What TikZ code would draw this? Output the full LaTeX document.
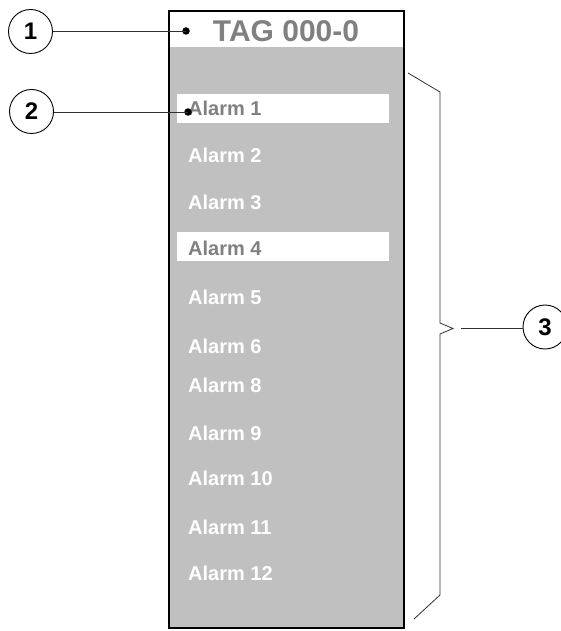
\documentclass[tikz,border=0pt]{standalone}
\usepackage{fontspec}
\setmainfont{Liberation Sans}
\definecolor{panelgray}{HTML}{C0C0C0}
\definecolor{textgray}{HTML}{808080}
\definecolor{leadgray}{HTML}{303030}
\begin{document}
\begin{tikzpicture}[x=1pt,y=-1pt,
  callout/.style={circle,draw=black,line width=0.9pt,minimum size=44pt,inner sep=0pt,
    font=\fontsize{24}{26}\selectfont\bfseries},
  dotmark/.style={circle,fill=black,minimum size=7.5pt,inner sep=0pt},
  leader/.style={draw=leadgray,line width=0.9pt},
  alarm/.style={anchor=west,inner sep=0pt,text=white,font=\fontsize{20}{22}\selectfont\bfseries},
  alarmsel/.style={alarm,text=textgray},
  selbar/.style={fill=white,draw=none},
  bracepath/.style={draw=leadgray,line width=0.8pt}]
\useasboundingbox (0,0) rectangle (561,631);
% panel
\fill[panelgray] (169,47) rectangle (404,628);
\fill[white] (169,11) rectangle (404,47);
\fill[selbar] (177,94) rectangle (389,123);
\fill[selbar] (177,232) rectangle (389,261);
\draw[black,line width=2.4pt] (169,11) rectangle (404,628);
% header text
\node[inner sep=0pt,text=textgray,font=\fontsize{30}{32}\selectfont\bfseries] (tag) at (286,31) {TAG 000-0};
% alarms
\node[alarmsel] (a1) at (188,108) {Alarm 1};
\node[alarm] (a2) at (188,155) {Alarm 2};
\node[alarm] (a3) at (188,202) {Alarm 3};
\node[alarmsel] (a4) at (188,248) {Alarm 4};
\node[alarm] (a5) at (188,297) {Alarm 5};
\node[alarm] (a6) at (188,346) {Alarm 6};
\node[alarm] (a8) at (188,385) {Alarm 8};
\node[alarm] (a9) at (188,433) {Alarm 9};
\node[alarm] (a10) at (188,478) {Alarm 10};
\node[alarm] (a11) at (188,527) {Alarm 11};
\node[alarm] (a12) at (188,573) {Alarm 12};
% callouts
\node[callout] (c1) at (30.5,31.5) {1};
\node[callout] (c2) at (31.5,111.5) {2};
\node[callout] (c3) at (545,327) {3};
\node[dotmark] (d1) at (186,31) {};
\node[dotmark] (d2) at (188,112) {};
\draw[leader] (c1.east |- d1) -- (d1.center);
\draw[leader] (c2.east |- d2) -- (d2.center);
% brace
\coordinate (btop) at (408,73);
\coordinate (btip) at (453,328.5);
\coordinate (bbot) at (414,619);
\coordinate (bstart) at (461,328);
\draw[bracepath] (btop) -- (440,92) -- (440,323) -- (btip) -- (440,334) -- (440,595) -- (bbot);
\draw[leader] (bstart) -- (c3.west |- bstart);
\end{tikzpicture}
\end{document}
